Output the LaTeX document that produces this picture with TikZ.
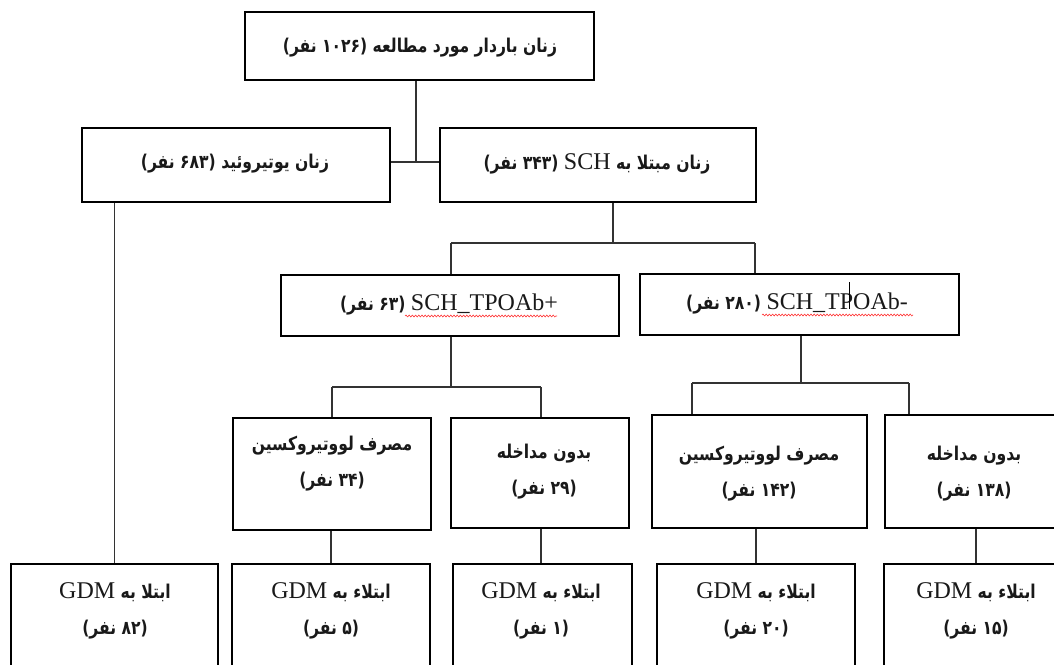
\documentclass[tikz,border=0pt]{standalone}
\usepackage{fontspec}
\setmainfont{Liberation Serif}
\newfontfamily\arabicfont[Script=Arabic, FakeStretch=0.82]{DejaVu Sans}
\usetikzlibrary{decorations.pathmorphing}
\TeXXeTstate=1
\newcommand\lat[1]{\beginL{\rmfamily\mdseries\fontsize{24}{28}\selectfont #1}\endL}
\tikzset{
  box/.style={draw=black, line width=2.7pt, inner sep=0pt, fill=none},
  lbl/.style={font=\arabicfont\bfseries\fontsize{19}{36}\selectfont, align=center, inner sep=0pt, text=black!90},
  conn/.style={draw=black!80, line width=1.3pt},
  spell/.style={draw=red!80, line width=0.6pt, decorate, decoration={snake, amplitude=0.9pt, segment length=3.2pt}}
}
\begin{document}
\begin{tikzpicture}[x=1pt, y=-1pt]
\useasboundingbox (0,0) rectangle (1054,664);
\clip (0,0) rectangle (1054,664);
\fill[white] (0,0) rectangle (1054,664);
% boxes
\node[box, minimum width=349pt, minimum height=68pt] (top) at (419.5,46) {};
\node[box, minimum width=308pt, minimum height=74pt] (euth) at (236,165) {};
\node[box, minimum width=316pt, minimum height=74pt] (sch) at (598,165) {};
\node[box, minimum width=338pt, minimum height=61pt] (pos) at (450,305.5) {};
\node[box, minimum width=319pt, minimum height=61pt] (neg) at (799.5,304.5) {};
\node[box, minimum width=198pt, minimum height=112pt] (b9) at (332,474) {};
\node[box, minimum width=178pt, minimum height=110pt] (b10) at (540,473) {};
\node[box, minimum width=215pt, minimum height=113pt] (b11) at (759.5,471.5) {};
\node[box, minimum width=178pt, minimum height=113pt] (b12) at (974,471.5) {};
\node[box, minimum width=207pt, minimum height=136pt] (g1) at (114.5,632) {};
\node[box, minimum width=198pt, minimum height=136pt] (g2) at (331,632) {};
\node[box, minimum width=179pt, minimum height=136pt] (g3) at (542.5,632) {};
\node[box, minimum width=198pt, minimum height=136pt] (g4) at (756,632) {};
\node[box, minimum width=184pt, minimum height=136pt] (g5) at (976,632) {};
% texts
\node[lbl] (ttop) at (420,48) {\beginR زنان باردار مورد مطالعه (۱۰۲۶ نفر)\endR};
\node[lbl] (teuth) at (235,164) {\beginR زنان یوتیروئید (۶۸۳ نفر)\endR};
\node[lbl] (tsch) at (597,164) {\beginR زنان مبتلا به \lat{SCH} (۳۴۳ نفر)\endR};
\node[lbl] (tpos) at (449,304) {\beginR\lat{SCH\_TPOAb+} (۶۳ نفر)\endR};
\node[lbl] (tneg) at (797,303) {\beginR\lat{SCH\_TPOAb-} (۲۸۰ نفر)\endR};
\node[lbl] (tb9) at (332,464) {\beginR مصرف لووتیروکسین\endR\\\beginR (۳۴ نفر)\endR};
\node[lbl] (tb10) at (544,472) {\beginR بدون مداخله\endR\\\beginR (۲۹ نفر)\endR};
\node[lbl] (tb11) at (759,474) {\beginR مصرف لووتیروکسین\endR\\\beginR (۱۴۲ نفر)\endR};
\node[lbl] (tb12) at (974,474) {\beginR بدون مداخله\endR\\\beginR (۱۳۸ نفر)\endR};
\node[lbl] (tg1) at (115,611) {\beginR ابتلا به \lat{GDM}\endR\\\beginR (۸۲ نفر)\endR};
\node[lbl] (tg2) at (331,611) {\beginR ابتلاء به \lat{GDM}\endR\\\beginR (۵ نفر)\endR};
\node[lbl] (tg3) at (541,611) {\beginR ابتلاء به \lat{GDM}\endR\\\beginR (۱ نفر)\endR};
\node[lbl] (tg4) at (756,611) {\beginR ابتلاء به \lat{GDM}\endR\\\beginR (۲۰ نفر)\endR};
\node[lbl] (tg5) at (976,611) {\beginR ابتلاء به \lat{GDM}\endR\\\beginR (۱۵ نفر)\endR};
% junctions
\coordinate (j1) at (416,162);
\coordinate (j2) at (613,243);
\coordinate (j2l) at (451,243);
\coordinate (j2r) at (755,243);
\coordinate (j3) at (451,387);
\coordinate (j3l) at (332,387);
\coordinate (j3r) at (541,387);
\coordinate (j4) at (801,383);
\coordinate (j4l) at (692,383);
\coordinate (j4r) at (909,383);
% connectors
\draw[conn] (top.south -| j1) -- (j1);
\draw[conn] (euth.east |- j1) -- (sch.west |- j1);
\draw[conn] (sch.south -| j2) -- (j2);
\draw[conn] (j2l) -- (j2r);
\draw[conn] (j2l) -- (pos.north -| j2l);
\draw[conn] (j2r) -- (neg.north -| j2r);
\draw[conn] (pos.south -| j3) -- (j3);
\draw[conn] (j3l) -- (j3r);
\draw[conn] (j3l) -- (b9.north -| j3l);
\draw[conn] (j3r) -- (b10.north -| j3r);
\draw[conn] (neg.south -| j4) -- (j4);
\draw[conn] (j4l) -- (j4r);
\draw[conn] (j4l) -- (b11.north -| j4l);
\draw[conn] (j4r) -- (b12.north -| j4r);
\draw[conn] (euth.south -| g1.north) -- (g1.north);
\draw[conn] (b9.south -| g2.north) -- (g2.north);
\draw[conn] (b10.south -| j3r) -- (g3.north -| j3r);
\draw[conn] (b11.south -| g4.north) -- (g4.north);
\draw[conn] (b12.south -| g5.north) -- (g5.north);
% spell-check underlines and cursor
\draw[spell] (405,316) -- (557,316);
\draw[spell] (762,315) -- (913,315);
\draw[black, line width=0.8pt] (849,282) -- (849,309);
\end{tikzpicture}
\end{document}
